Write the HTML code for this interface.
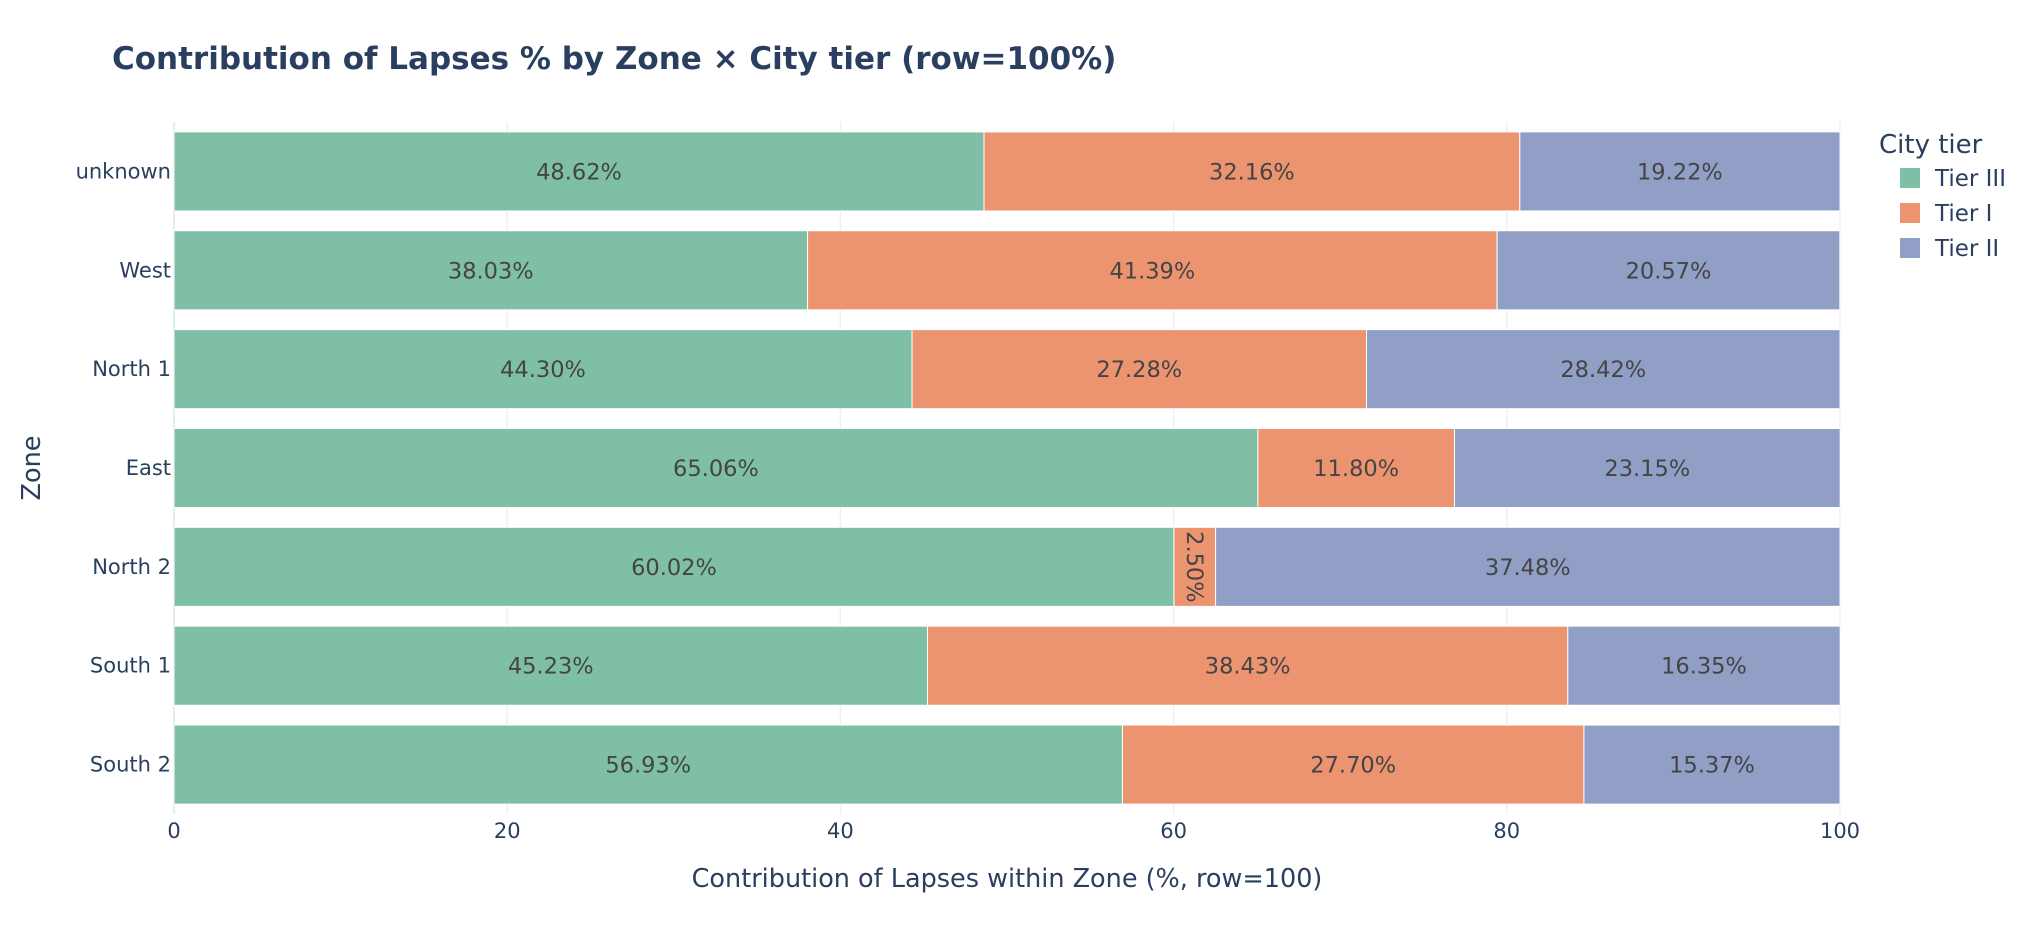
<!DOCTYPE html>
<html><head><meta charset="utf-8"><style>
html,body{margin:0;padding:0;background:#fff;}
svg{display:block;font-family:"DejaVu Sans","Liberation Sans",sans-serif;}
</style></head><body>
<svg id="chart" width="2036" height="932" xmlns="http://www.w3.org/2000/svg">
<text x="112" y="69" font-size="31" font-weight="bold" fill="#2a3f5f">Contribution of Lapses % by Zone × City tier (row=100%)</text>
<g id="grid"></g>
<g id="bars"></g>
<g id="labels"></g>
<text x="1007" y="887" font-size="25.5" fill="#2a3f5f" text-anchor="middle">Contribution of Lapses within Zone (%, row=100)</text>
<text transform="translate(40,468) rotate(-90)" font-size="25.5" fill="#2a3f5f" text-anchor="middle">Zone</text>
<g id="legend">
<text x="1879" y="153" font-size="26" fill="#2a3f5f">City tier</text>
</g>
</svg>
<script>
const zones = ["unknown","West","North 1","East","North 2","South 1","South 2"];
const seriesNames = ["Tier III","Tier I","Tier II"];
const tierIII = [48.62,38.03,44.30,65.06,60.02,45.23,56.93];
const tierI = [32.16,41.39,27.28,11.80,2.50,38.43,27.70];
const tierII = [19.22,20.57,28.42,23.15,37.48,16.35,15.37];
const xTicks = [0,20,40,60,80,100];
const colors = ["#7fbfa6","#ec9470","#919fc7"];
const series = [tierIII,tierI,tierII];
const NS="http://www.w3.org/2000/svg";
const L=174,R=1840,T=122,B=814;
const xs=v=>L+(v/100)*(R-L);
const step=(B-T)/zones.length;
const yc=i=>T+step*(i+0.5);
const bw=step*0.8;
function mk(tag,attrs,parent){const e=document.createElementNS(NS,tag);for(const k in attrs)e.setAttribute(k,attrs[k]);parent.appendChild(e);return e;}
const grid=document.getElementById('grid'),bars=document.getElementById('bars'),labels=document.getElementById('labels');
xTicks.forEach(t=>{
  const l=mk('line',{x1:xs(t),x2:xs(t),y1:T,y2:B,stroke:t===0?'#e5ecf6':'#edf0f5','stroke-width':t===0?2:1.5},grid);
  
  
  const tx=mk('text',{x:xs(t),y:838,'font-size':21,fill:'#2a3f5f','text-anchor':'middle'},grid);
  tx.textContent=t;
  
  
});
zones.forEach((z,i)=>{
  const tx=mk('text',{x:171,y:yc(i)+7,'font-size':21,fill:'#2a3f5f','text-anchor':'end'},labels);
  tx.textContent=z;
  
  
  let acc=0;
  series.forEach((s,k)=>{
    const v=s[i];const x0=xs(acc),x1=xs(acc+v);acc+=v;
    const r=mk('rect',{x:x0,y:yc(i)-bw/2,width:Math.max(0,x1-x0),height:bw,fill:colors[k],stroke:'#fff','stroke-width':1},bars);
    
    
    const cx=(x0+x1)/2;
    const t=mk('text',{'font-size':22.5,fill:'#444','text-anchor':'middle'},bars);
    if(x1-x0<80){t.setAttribute('transform','translate('+(cx-8)+','+yc(i)+') rotate(90)');t.setAttribute('y',0);t.setAttribute('x',0);}
    else{t.setAttribute('x',cx);t.setAttribute('y',yc(i)+8);}
    t.textContent=v.toFixed(2)+'%';
    
    
  });
});
const lg=document.getElementById('legend');
seriesNames.forEach((n,k)=>{
  const y=178+k*35;
  const r=mk('rect',{x:1900,y:y-10,width:20,height:20,fill:colors[k]},lg);
  
  
  const t=mk('text',{x:1935,y:y+8,'font-size':23,fill:'#2a3f5f'},lg);
  t.textContent=n;
  
  
});
</script>
</body></html>
